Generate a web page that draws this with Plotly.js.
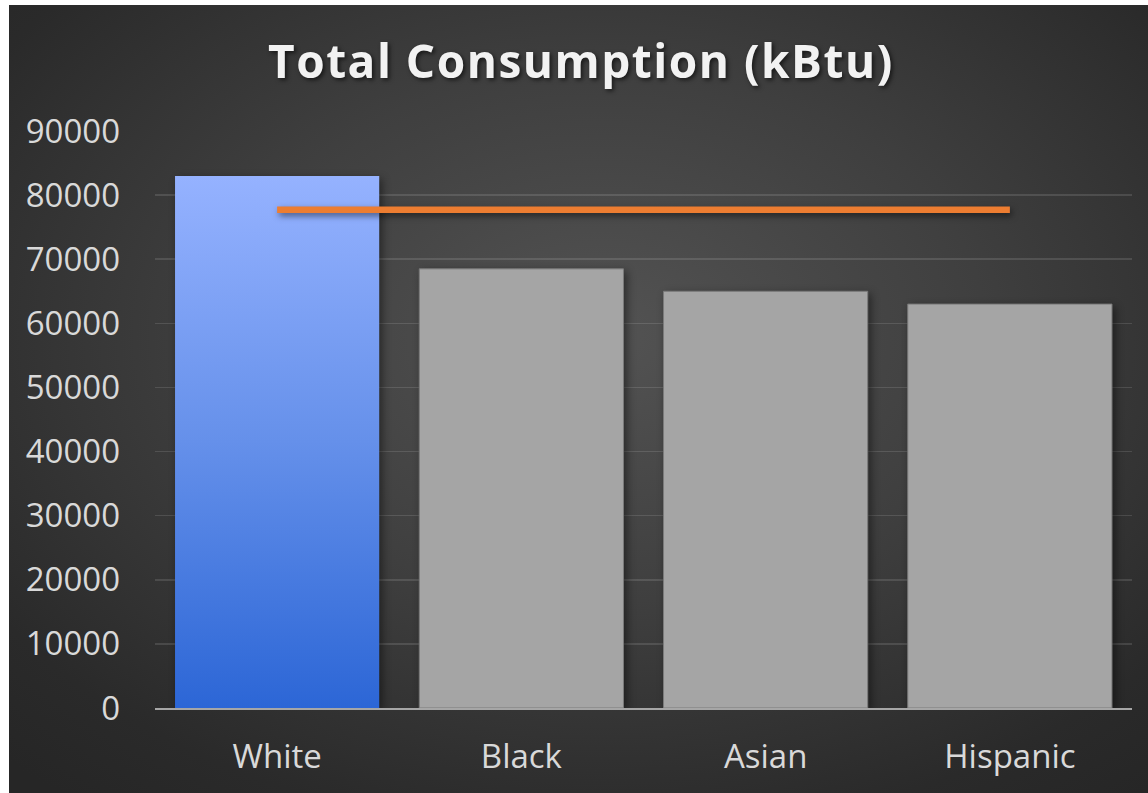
<!DOCTYPE html>
<html>
<head>
<meta charset="utf-8">
<script src="https://cdn.plot.ly/plotly-3.0.1.min.js"></script>
<style>
  html, body { margin: 0; padding: 0; background: #ffffff; }
  #wrap { position: relative; width: 1148px; height: 793px; overflow: hidden; background: #ffffff; }
  #bg { position: absolute; left: 9px; top: 5px; width: 1139px; height: 788px;
        background: radial-gradient(ellipse 75% 75% at 52% 42%, #535353 0%, #3f3f3f 45%, #2a2a2a 85%, #262626 100%); }
  #chart { position: absolute; left: 0; top: 0; width: 1148px; height: 793px; }
  #chart .barlayer .point path { filter: drop-shadow(3px 3px 4px rgba(0,0,0,0.45)); }
  #chart .scatterlayer .js-line { filter: drop-shadow(2px 3px 3px rgba(0,0,0,0.5)); }
  #chart .gtitle { filter: drop-shadow(2px 2px 2px rgba(0,0,0,0.6)); letter-spacing: 1.5px; }
</style>
</head>
<body>
<div id="wrap">
  <div id="bg"></div>
  <div id="chart"></div>
</div>
<script>
const categories = ['White', 'Black', 'Asian', 'Hispanic'];
const consumption = [83000, 68500, 65000, 63000];
const referenceLine = [77700, 77700, 77700, 77700];
const yTicks = [0, 10000, 20000, 30000, 40000, 50000, 60000, 70000, 80000, 90000];

const barTrace = {
  type: 'bar',
  x: categories,
  y: consumption,
  marker: {
    color: ['#5f8ae8', '#a5a5a5', '#a5a5a5', '#a5a5a5'],
    line: { color: ['rgba(0,0,0,0)', '#7b7b7b', '#7b7b7b', '#7b7b7b'], width: [0, 1, 1, 1] }
  },
  hoverinfo: 'skip',
  showlegend: false
};

const lineTrace = {
  type: 'scatter',
  mode: 'lines',
  x: categories,
  y: referenceLine,
  line: { color: '#ed7d31', width: 6.5 },
  hoverinfo: 'skip',
  showlegend: false
};

const font = "'Open Sans', 'DejaVu Sans', sans-serif";

const layout = {
  width: 1148,
  height: 793,
  paper_bgcolor: 'rgba(0,0,0,0)',
  plot_bgcolor: 'rgba(0,0,0,0)',
  margin: { l: 155, r: 16, t: 131, b: 85 },
  bargap: 0.164,
  title: {
    text: 'Total Consumption (kBtu)',
    font: { family: font, size: 46, color: '#f2f2f2', weight: 'bold' },
    x: 0.506, xanchor: 'center',
    y: 0.922, yanchor: 'middle',
    xref: 'container', yref: 'container'
  },
  xaxis: {
    type: 'category',
    showgrid: false,
    showline: true,
    linecolor: '#a6a6a6',
    linewidth: 2,
    ticks: '',
    ticklabelstandoff: 18,
    tickfont: { family: font, size: 33, color: '#d9d9d9' },
    zeroline: false
  },
  yaxis: {
    range: [0, 90000],
    tickvals: yTicks,
    ticktext: yTicks.map(String),
    showgrid: true,
    gridcolor: 'rgba(255,255,255,0.12)',
    gridwidth: 1.5,
    zeroline: false,
    showline: false,
    ticks: '',
    ticklabelstandoff: 34,
    tickfont: { family: font, size: 33, color: '#d9d9d9' }
  },
  font: { family: font, color: '#d9d9d9' }
};

Plotly.newPlot('chart', [barTrace, lineTrace], layout, { staticPlot: true, displayModeBar: false }).then(function (gd) {
  const ns = 'http://www.w3.org/2000/svg';
  const svg = gd.querySelector('svg.main-svg');
  let defs = svg.querySelector('defs');
  if (!defs) { defs = document.createElementNS(ns, 'defs'); svg.insertBefore(defs, svg.firstChild); }
  const grad = document.createElementNS(ns, 'linearGradient');
  grad.setAttribute('id', 'whiteBarGrad');
  grad.setAttribute('x1', '0'); grad.setAttribute('y1', '0');
  grad.setAttribute('x2', '0'); grad.setAttribute('y2', '1');
  [['0%', '#95b2ff'], ['50%', '#6590ea'], ['100%', '#2c66d6']].forEach(function (s) {
    const st = document.createElementNS(ns, 'stop');
    st.setAttribute('offset', s[0]);
    st.setAttribute('stop-color', s[1]);
    grad.appendChild(st);
  });
  defs.appendChild(grad);
  const paths = gd.querySelectorAll('.barlayer .point path');
  if (paths.length) { paths[0].style.fill = 'url(#whiteBarGrad)'; }
});
</script>
</body>
</html>
